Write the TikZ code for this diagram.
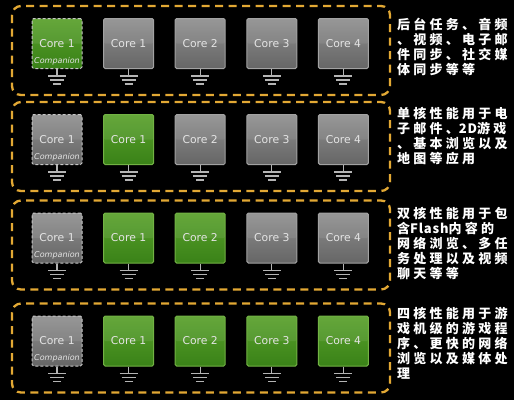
\documentclass[tikz,border=0pt]{standalone}
\usepackage{fontspec}
\setmainfont{DejaVu Sans}
\newfontfamily\cjk[LetterSpace=25]{Noto Sans CJK SC}
\newcommand{\lat}[1]{{\addfontfeatures{LetterSpace=6}#1}}
\usetikzlibrary{positioning}
\definecolor{framegold}{HTML}{E2A834}
\definecolor{graytop}{HTML}{8E8E8E}
\definecolor{graybot}{HTML}{666666}
\definecolor{grayline}{HTML}{A2A2A2}
\definecolor{greentop}{HTML}{58A02A}
\definecolor{greenbot}{HTML}{3A8218}
\definecolor{greenline}{HTML}{72B244}
\definecolor{coretext}{HTML}{E4E4E4}
\definecolor{gndgray}{HTML}{B4B4B4}

\tikzset{
  corebox/.style={minimum size=50pt, inner sep=0pt, rounded corners=1.5pt, line width=1pt,
    font=\fontsize{10.8}{12}\selectfont, text=coretext,
    path picture={\fill[white, opacity=.08] (path picture bounding box.north west) rectangle (path picture bounding box.east);}},
  coreoff/.style={corebox, draw=grayline, top color=graytop, bottom color=graybot},
  coreon/.style={corebox, draw=greenline, top color=greentop, bottom color=greenbot},
  comp/.style={draw=white!78!black, dash pattern=on 3pt off 2pt},
  complab/.style={font=\itshape\fontsize{8}{9}\selectfont, text=coretext, inner sep=0pt},
  gnd/.style={draw=gndgray, line width=1.2pt},
  framebox/.style={draw=framegold, line width=2.3pt, dash pattern=on 8pt off 5.5pt, rounded corners=9pt},
  desc/.style={font=\cjk\bfseries\fontsize{13}{15}\selectfont, text=white, align=left, inner sep=0pt, anchor=north west}
}

\begin{document}
\begin{tikzpicture}[x=1pt, y=-1pt]
\fill[black] (0,0) rectangle (514,400);
\useasboundingbox (0,0) rectangle (514,400);

\foreach \r/\yy/\n in {1/43.5/0, 2/139.5/1, 3/238/2, 4/341/4}
{
    \draw[framebox] (12,\yy-37.5) rectangle (390,\yy+51.5);
    \ifnum\r=1 \def\st{coreon}\else\def\st{coreoff}\fi
    \node[\st, comp] (c\r0) at (57,\yy) {Core 1};
    \node[complab] (k\r) at ([yshift=8pt]c\r0.south) {Companion};
    \foreach \c in {1,...,4}
    {
        \ifnum\c>\n \def\st{coreoff}\else\def\st{coreon}\fi
        \node[\st] (c\r\c) at ({57+71.6*\c},\yy) {Core \c};
    }
    \foreach \c in {0,...,4}
    {
        \draw[gnd] (c\r\c.south) -- ++(0,7) ++(-9,0) -- ++(18,0) ++(-16,4) -- ++(14,0) ++(-11,4) -- ++(8,0);
    }
}

\node[desc] (t1) at (397,18) {后台任务、音频\\、视频、电子邮\\件同步、社交媒\\体同步等等};
\node[desc] (t2) at (397,107) {单核性能用于电\\子邮件、\lat{2D}游戏\\、基本浏览以及\\地图等应用};
\node[desc] (t3) at (397,207) {双核性能用于包\\含\lat{Flash}内容的\\网络浏览、多任\\务处理以及视频\\聊天等等};
\node[desc] (t4) at (397,307) {四核性能用于游\\戏机级的游戏程\\序、更快的网络\\浏览以及媒体处\\理};
\end{tikzpicture}
\end{document}
